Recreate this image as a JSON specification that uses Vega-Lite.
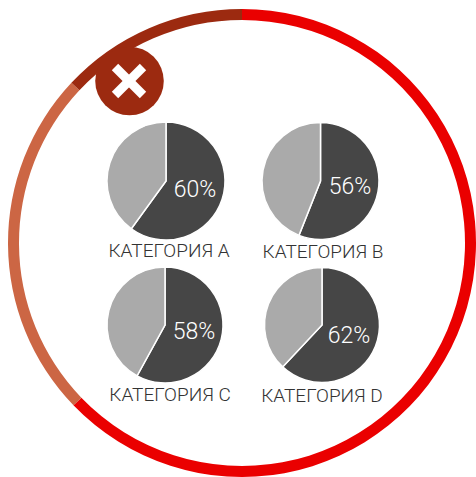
{"$schema":"https://vega.github.io/schema/vega-lite/v6.json","width":476,"height":477,"padding":0,"autosize":{"type":"fit","contains":"padding"},"background":"white","view":{"stroke":null},
"datasets":{
"ring":[{"part":"red","start":0,"end":62.8,"x":242,"y":243},{"part":"orange","start":62.8,"end":87,"x":242,"y":243},{"part":"brown","start":87,"end":100,"x":242,"y":243}],
"pies":[
{"cat":"КАТЕГОРИЯ A","part":"main","start":0,"end":60,"x":166,"y":181,"r":59},{"cat":"КАТЕГОРИЯ A","part":"rest","start":60,"end":100,"x":166,"y":181,"r":59},
{"cat":"КАТЕГОРИЯ B","part":"main","start":0,"end":56,"x":320.5,"y":181,"r":58.5},{"cat":"КАТЕГОРИЯ B","part":"rest","start":56,"end":100,"x":320.5,"y":181,"r":58.5},
{"cat":"КАТЕГОРИЯ C","part":"main","start":0,"end":58,"x":165,"y":325,"r":58},{"cat":"КАТЕГОРИЯ C","part":"rest","start":58,"end":100,"x":165,"y":325,"r":58},
{"cat":"КАТЕГОРИЯ D","part":"main","start":0,"end":62,"x":322,"y":325,"r":57.5},{"cat":"КАТЕГОРИЯ D","part":"rest","start":62,"end":100,"x":322,"y":325,"r":57.5}],
"labels":[
{"cat":"КАТЕГОРИЯ A","pct":"60%","px":195,"py":190,"lx":169,"ly":251},
{"cat":"КАТЕГОРИЯ B","pct":"56%","px":350,"py":187,"lx":323,"ly":252},
{"cat":"КАТЕГОРИЯ C","pct":"58%","px":194,"py":332,"lx":170,"ly":395},
{"cat":"КАТЕГОРИЯ D","pct":"62%","px":349,"py":336,"lx":322,"ly":396}],
"badge":[{"x":129.5,"y":81}],
"cross":[{"x":115,"y":67,"x2":143,"y2":95},{"x":115,"y":95,"x2":143,"y2":67}]
},
"encoding":{},
"layer":[
{"data":{"name":"ring"},"mark":{"type":"arc","innerRadius":223,"outerRadius":234},
"encoding":{"x":{"field":"x","type":"quantitative","scale":{"domain":[0,476],"nice":false,"zero":false},"axis":null},"y":{"field":"y","type":"quantitative","scale":{"domain":[0,477],"reverse":true,"nice":false,"zero":false},"axis":null},
"theta":{"field":"start","type":"quantitative","scale":{"domain":[0,100]}},"theta2":{"field":"end"},
"color":{"field":"part","type":"nominal","legend":null,"scale":{"domain":["red","orange","brown","main","rest"],"range":["#ea0000","#cc6644","#9c2a10","#464646","#aaaaaa"]}}}},
{"data":{"name":"badge"},"mark":{"type":"point","shape":"circle","filled":true,"opacity":1,"color":"#9c2a10","size":4700},
"encoding":{"x":{"field":"x","type":"quantitative"},"y":{"field":"y","type":"quantitative"}}},
{"data":{"name":"cross"},"mark":{"type":"rule","color":"white","strokeWidth":9},
"encoding":{"x":{"field":"x","type":"quantitative"},"y":{"field":"y","type":"quantitative"},"x2":{"field":"x2"},"y2":{"field":"y2"}}},
{"data":{"name":"pies"},"mark":{"type":"arc","stroke":"white","strokeWidth":1.5},
"encoding":{"x":{"field":"x","type":"quantitative"},"y":{"field":"y","type":"quantitative"},
"theta":{"field":"start","type":"quantitative"},"theta2":{"field":"end"},
"radius":{"field":"r","type":"quantitative","scale":null},
"color":{"field":"part","type":"nominal"}}},
{"data":{"name":"labels"},"mark":{"type":"text","font":"Roboto","fontWeight":300,"fontSize":23,"color":"white","align":"center","baseline":"middle"},
"encoding":{"x":{"field":"px","type":"quantitative"},"y":{"field":"py","type":"quantitative"},"text":{"field":"pct"}}},
{"data":{"name":"labels"},"mark":{"type":"text","font":"Roboto","fontWeight":300,"fontSize":19,"color":"#333333","align":"center","baseline":"middle"},
"encoding":{"x":{"field":"lx","type":"quantitative"},"y":{"field":"ly","type":"quantitative"},"text":{"field":"cat"}}}
]}
